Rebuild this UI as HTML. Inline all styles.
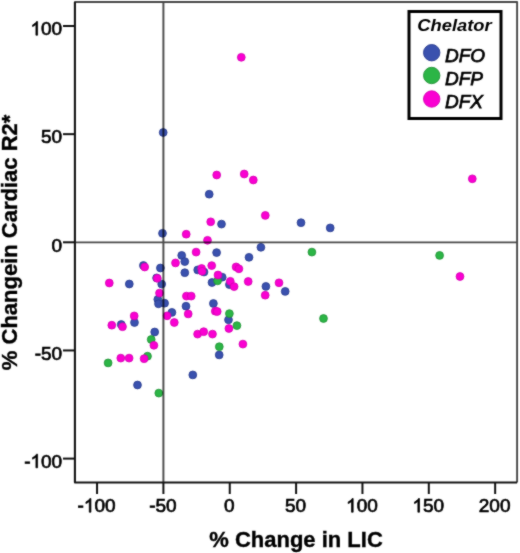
<!DOCTYPE html>
<html><head><meta charset="utf-8"><style>
html,body{margin:0;padding:0;background:#fff;}
body{width:520px;height:553px;overflow:hidden;}
svg{display:block;font-family:"Liberation Sans",sans-serif;will-change:transform;}
</style></head><body>
<svg width="520" height="553" viewBox="0 0 520 553">
<defs><filter id="soft" x="0" y="0" width="520" height="553" filterUnits="userSpaceOnUse" color-interpolation-filters="sRGB"><feConvolveMatrix order="3" kernelMatrix="1 2 1 2 16 2 1 2 1" divisor="28" edgeMode="duplicate"/></filter></defs>
<g filter="url(#soft)">
<rect x="0" y="0" width="520" height="553" fill="#fff"/>
<g>
<circle cx="163.2" cy="132.5" r="3.9" fill="#3a51ae" stroke="#293c8e" stroke-width="0.8"/>
<circle cx="209.2" cy="194.2" r="3.9" fill="#3a51ae" stroke="#293c8e" stroke-width="0.8"/>
<circle cx="221.5" cy="224.1" r="3.9" fill="#3a51ae" stroke="#293c8e" stroke-width="0.8"/>
<circle cx="301.0" cy="222.7" r="3.9" fill="#3a51ae" stroke="#293c8e" stroke-width="0.8"/>
<circle cx="330.2" cy="227.9" r="3.9" fill="#3a51ae" stroke="#293c8e" stroke-width="0.8"/>
<circle cx="162.5" cy="233.3" r="3.9" fill="#3a51ae" stroke="#293c8e" stroke-width="0.8"/>
<circle cx="260.9" cy="247.3" r="3.9" fill="#3a51ae" stroke="#293c8e" stroke-width="0.8"/>
<circle cx="216.6" cy="252.6" r="3.9" fill="#3a51ae" stroke="#293c8e" stroke-width="0.8"/>
<circle cx="249.0" cy="257.3" r="3.9" fill="#3a51ae" stroke="#293c8e" stroke-width="0.8"/>
<circle cx="181.7" cy="255.4" r="3.9" fill="#3a51ae" stroke="#293c8e" stroke-width="0.8"/>
<circle cx="184.8" cy="261.6" r="3.9" fill="#3a51ae" stroke="#293c8e" stroke-width="0.8"/>
<circle cx="184.8" cy="272.7" r="3.9" fill="#3a51ae" stroke="#293c8e" stroke-width="0.8"/>
<circle cx="143.4" cy="265.5" r="3.9" fill="#3a51ae" stroke="#293c8e" stroke-width="0.8"/>
<circle cx="160.4" cy="268.0" r="3.9" fill="#3a51ae" stroke="#293c8e" stroke-width="0.8"/>
<circle cx="161.7" cy="284.1" r="3.9" fill="#3a51ae" stroke="#293c8e" stroke-width="0.8"/>
<circle cx="129.3" cy="284.0" r="3.9" fill="#3a51ae" stroke="#293c8e" stroke-width="0.8"/>
<circle cx="197.7" cy="269.9" r="3.9" fill="#3a51ae" stroke="#293c8e" stroke-width="0.8"/>
<circle cx="204.0" cy="272.0" r="3.9" fill="#3a51ae" stroke="#293c8e" stroke-width="0.8"/>
<circle cx="222.2" cy="277.2" r="3.9" fill="#3a51ae" stroke="#293c8e" stroke-width="0.8"/>
<circle cx="212.0" cy="282.5" r="3.9" fill="#3a51ae" stroke="#293c8e" stroke-width="0.8"/>
<circle cx="265.9" cy="286.4" r="3.9" fill="#3a51ae" stroke="#293c8e" stroke-width="0.8"/>
<circle cx="285.2" cy="291.4" r="3.9" fill="#3a51ae" stroke="#293c8e" stroke-width="0.8"/>
<circle cx="157.8" cy="299.4" r="3.9" fill="#3a51ae" stroke="#293c8e" stroke-width="0.8"/>
<circle cx="158.5" cy="303.8" r="3.9" fill="#3a51ae" stroke="#293c8e" stroke-width="0.8"/>
<circle cx="164.6" cy="303.2" r="3.9" fill="#3a51ae" stroke="#293c8e" stroke-width="0.8"/>
<circle cx="171.9" cy="312.4" r="3.9" fill="#3a51ae" stroke="#293c8e" stroke-width="0.8"/>
<circle cx="186.0" cy="306.2" r="3.9" fill="#3a51ae" stroke="#293c8e" stroke-width="0.8"/>
<circle cx="213.4" cy="303.5" r="3.9" fill="#3a51ae" stroke="#293c8e" stroke-width="0.8"/>
<circle cx="228.5" cy="319.8" r="3.9" fill="#3a51ae" stroke="#293c8e" stroke-width="0.8"/>
<circle cx="134.5" cy="322.5" r="3.9" fill="#3a51ae" stroke="#293c8e" stroke-width="0.8"/>
<circle cx="121.2" cy="324.5" r="3.9" fill="#3a51ae" stroke="#293c8e" stroke-width="0.8"/>
<circle cx="154.7" cy="332.0" r="3.9" fill="#3a51ae" stroke="#293c8e" stroke-width="0.8"/>
<circle cx="219.2" cy="354.9" r="3.9" fill="#3a51ae" stroke="#293c8e" stroke-width="0.8"/>
<circle cx="137.5" cy="385.0" r="3.9" fill="#3a51ae" stroke="#293c8e" stroke-width="0.8"/>
<circle cx="192.8" cy="374.9" r="3.9" fill="#3a51ae" stroke="#293c8e" stroke-width="0.8"/>
<circle cx="156.6" cy="277.9" r="3.9" fill="#3a51ae" stroke="#293c8e" stroke-width="0.8"/>
<circle cx="229.4" cy="284.6" r="3.9" fill="#3a51ae" stroke="#293c8e" stroke-width="0.8"/>
<circle cx="311.9" cy="252.1" r="3.9" fill="#2cb546" stroke="#1f9035" stroke-width="0.8"/>
<circle cx="439.6" cy="255.4" r="3.9" fill="#2cb546" stroke="#1f9035" stroke-width="0.8"/>
<circle cx="323.5" cy="318.5" r="3.9" fill="#2cb546" stroke="#1f9035" stroke-width="0.8"/>
<circle cx="217.6" cy="280.8" r="3.9" fill="#2cb546" stroke="#1f9035" stroke-width="0.8"/>
<circle cx="229.4" cy="313.6" r="3.9" fill="#2cb546" stroke="#1f9035" stroke-width="0.8"/>
<circle cx="236.9" cy="325.6" r="3.9" fill="#2cb546" stroke="#1f9035" stroke-width="0.8"/>
<circle cx="219.3" cy="346.7" r="3.9" fill="#2cb546" stroke="#1f9035" stroke-width="0.8"/>
<circle cx="151.2" cy="339.5" r="3.9" fill="#2cb546" stroke="#1f9035" stroke-width="0.8"/>
<circle cx="147.5" cy="356.2" r="3.9" fill="#2cb546" stroke="#1f9035" stroke-width="0.8"/>
<circle cx="108.1" cy="362.9" r="3.9" fill="#2cb546" stroke="#1f9035" stroke-width="0.8"/>
<circle cx="158.8" cy="393.1" r="3.9" fill="#2cb546" stroke="#1f9035" stroke-width="0.8"/>
<circle cx="241.3" cy="57.3" r="3.9" fill="#fa00d2" stroke="#d200b0" stroke-width="0.8"/>
<circle cx="216.7" cy="175.0" r="3.9" fill="#fa00d2" stroke="#d200b0" stroke-width="0.8"/>
<circle cx="244.2" cy="174.0" r="3.9" fill="#fa00d2" stroke="#d200b0" stroke-width="0.8"/>
<circle cx="253.3" cy="180.0" r="3.9" fill="#fa00d2" stroke="#d200b0" stroke-width="0.8"/>
<circle cx="472.3" cy="178.8" r="3.9" fill="#fa00d2" stroke="#d200b0" stroke-width="0.8"/>
<circle cx="265.3" cy="215.4" r="3.9" fill="#fa00d2" stroke="#d200b0" stroke-width="0.8"/>
<circle cx="210.7" cy="221.8" r="3.9" fill="#fa00d2" stroke="#d200b0" stroke-width="0.8"/>
<circle cx="186.2" cy="234.2" r="3.9" fill="#fa00d2" stroke="#d200b0" stroke-width="0.8"/>
<circle cx="207.5" cy="240.3" r="3.9" fill="#fa00d2" stroke="#d200b0" stroke-width="0.8"/>
<circle cx="196.1" cy="252.1" r="3.9" fill="#fa00d2" stroke="#d200b0" stroke-width="0.8"/>
<circle cx="175.5" cy="262.9" r="3.9" fill="#fa00d2" stroke="#d200b0" stroke-width="0.8"/>
<circle cx="144.7" cy="267.0" r="3.9" fill="#fa00d2" stroke="#d200b0" stroke-width="0.8"/>
<circle cx="157.3" cy="278.3" r="3.9" fill="#fa00d2" stroke="#d200b0" stroke-width="0.8"/>
<circle cx="159.5" cy="293.1" r="3.9" fill="#fa00d2" stroke="#d200b0" stroke-width="0.8"/>
<circle cx="109.3" cy="283.0" r="3.9" fill="#fa00d2" stroke="#d200b0" stroke-width="0.8"/>
<circle cx="201.6" cy="268.5" r="3.9" fill="#fa00d2" stroke="#d200b0" stroke-width="0.8"/>
<circle cx="202.1" cy="271.3" r="3.9" fill="#fa00d2" stroke="#d200b0" stroke-width="0.8"/>
<circle cx="211.7" cy="265.6" r="3.9" fill="#fa00d2" stroke="#d200b0" stroke-width="0.8"/>
<circle cx="236.1" cy="266.9" r="3.9" fill="#fa00d2" stroke="#d200b0" stroke-width="0.8"/>
<circle cx="238.9" cy="268.8" r="3.9" fill="#fa00d2" stroke="#d200b0" stroke-width="0.8"/>
<circle cx="218.0" cy="275.0" r="3.9" fill="#fa00d2" stroke="#d200b0" stroke-width="0.8"/>
<circle cx="230.3" cy="281.3" r="3.9" fill="#fa00d2" stroke="#d200b0" stroke-width="0.8"/>
<circle cx="234.1" cy="286.6" r="3.9" fill="#fa00d2" stroke="#d200b0" stroke-width="0.8"/>
<circle cx="248.2" cy="281.5" r="3.9" fill="#fa00d2" stroke="#d200b0" stroke-width="0.8"/>
<circle cx="279.0" cy="282.8" r="3.9" fill="#fa00d2" stroke="#d200b0" stroke-width="0.8"/>
<circle cx="265.2" cy="295.2" r="3.9" fill="#fa00d2" stroke="#d200b0" stroke-width="0.8"/>
<circle cx="186.4" cy="296.1" r="3.9" fill="#fa00d2" stroke="#d200b0" stroke-width="0.8"/>
<circle cx="191.2" cy="296.1" r="3.9" fill="#fa00d2" stroke="#d200b0" stroke-width="0.8"/>
<circle cx="188.2" cy="313.9" r="3.9" fill="#fa00d2" stroke="#d200b0" stroke-width="0.8"/>
<circle cx="215.3" cy="311.2" r="3.9" fill="#fa00d2" stroke="#d200b0" stroke-width="0.8"/>
<circle cx="217.2" cy="311.5" r="3.9" fill="#fa00d2" stroke="#d200b0" stroke-width="0.8"/>
<circle cx="167.1" cy="315.8" r="3.9" fill="#fa00d2" stroke="#d200b0" stroke-width="0.8"/>
<circle cx="174.3" cy="322.5" r="3.9" fill="#fa00d2" stroke="#d200b0" stroke-width="0.8"/>
<circle cx="134.2" cy="315.9" r="3.9" fill="#fa00d2" stroke="#d200b0" stroke-width="0.8"/>
<circle cx="111.8" cy="325.2" r="3.9" fill="#fa00d2" stroke="#d200b0" stroke-width="0.8"/>
<circle cx="122.5" cy="326.7" r="3.9" fill="#fa00d2" stroke="#d200b0" stroke-width="0.8"/>
<circle cx="228.9" cy="328.5" r="3.9" fill="#fa00d2" stroke="#d200b0" stroke-width="0.8"/>
<circle cx="197.6" cy="334.1" r="3.9" fill="#fa00d2" stroke="#d200b0" stroke-width="0.8"/>
<circle cx="203.7" cy="331.7" r="3.9" fill="#fa00d2" stroke="#d200b0" stroke-width="0.8"/>
<circle cx="212.5" cy="334.1" r="3.9" fill="#fa00d2" stroke="#d200b0" stroke-width="0.8"/>
<circle cx="153.9" cy="345.3" r="3.9" fill="#fa00d2" stroke="#d200b0" stroke-width="0.8"/>
<circle cx="242.9" cy="344.1" r="3.9" fill="#fa00d2" stroke="#d200b0" stroke-width="0.8"/>
<circle cx="120.8" cy="358.1" r="3.9" fill="#fa00d2" stroke="#d200b0" stroke-width="0.8"/>
<circle cx="129.1" cy="358.1" r="3.9" fill="#fa00d2" stroke="#d200b0" stroke-width="0.8"/>
<circle cx="144.1" cy="358.7" r="3.9" fill="#fa00d2" stroke="#d200b0" stroke-width="0.8"/>
<circle cx="460.0" cy="276.5" r="3.9" fill="#fa00d2" stroke="#d200b0" stroke-width="0.8"/>
</g>
<g stroke="#4a4a4a" stroke-width="1.8" fill="none" style="mix-blend-mode:multiply">
<line x1="163.40" y1="2" x2="163.40" y2="482" stroke="#505050" stroke-width="2"/>
<line x1="75" y1="242.30" x2="517" y2="242.30"/>
</g>
<path d="M74.9 482.4 L74.9 2 L517.1 2 L517.1 482.4" fill="none" stroke="#484848" stroke-width="1.9" stroke-linejoin="round"/>
<path d="M74.9 2 L74.9 482.4 L517.1 482.4" fill="none" stroke="#141414" stroke-width="2" stroke-linejoin="round"/>
<g stroke="#111" stroke-width="2">
<line x1="97.05" y1="482.4" x2="97.05" y2="494"/><line x1="163.40" y1="482.4" x2="163.40" y2="494"/><line x1="229.75" y1="482.4" x2="229.75" y2="494"/><line x1="296.10" y1="482.4" x2="296.10" y2="494"/><line x1="362.45" y1="482.4" x2="362.45" y2="494"/><line x1="428.80" y1="482.4" x2="428.80" y2="494"/><line x1="495.15" y1="482.4" x2="495.15" y2="494"/><line x1="63" y1="26.00" x2="75" y2="26.00"/><line x1="63" y1="134.15" x2="75" y2="134.15"/><line x1="63" y1="242.30" x2="75" y2="242.30"/><line x1="63" y1="350.45" x2="75" y2="350.45"/><line x1="63" y1="458.60" x2="75" y2="458.60"/>
</g>
<g font-size="19" fill="#000" stroke="#000" stroke-width="0.7">
<text x="96.55" y="512.20" text-anchor="middle">-&#x2007;00</text><path d="M763 0L583 0L583 1147Q518 1085 412 1023Q306 961 221 930L221 1104Q372 1175 485 1276Q598 1377 645 1472L763 1472Z" transform="translate(83.86,512.20) scale(0.00928,-0.00928)" vector-effect="non-scaling-stroke"/><text x="162.90" y="512.20" text-anchor="middle">-50</text><text x="229.25" y="512.20" text-anchor="middle">0</text><text x="295.60" y="512.20" text-anchor="middle">50</text><text x="361.95" y="512.20" text-anchor="middle">&#x2007;00</text><path d="M763 0L583 0L583 1147Q518 1085 412 1023Q306 961 221 930L221 1104Q372 1175 485 1276Q598 1377 645 1472L763 1472Z" transform="translate(346.10,512.20) scale(0.00928,-0.00928)" vector-effect="non-scaling-stroke"/><text x="428.30" y="512.20" text-anchor="middle">&#x2007;50</text><path d="M763 0L583 0L583 1147Q518 1085 412 1023Q306 961 221 930L221 1104Q372 1175 485 1276Q598 1377 645 1472L763 1472Z" transform="translate(412.45,512.20) scale(0.00928,-0.00928)" vector-effect="non-scaling-stroke"/><text x="494.65" y="512.20" text-anchor="middle">200</text><text x="62.20" y="35.20" text-anchor="end">&#x2007;00</text><path d="M763 0L583 0L583 1147Q518 1085 412 1023Q306 961 221 930L221 1104Q372 1175 485 1276Q598 1377 645 1472L763 1472Z" transform="translate(30.50,35.20) scale(0.00928,-0.00928)" vector-effect="non-scaling-stroke"/><text x="62.20" y="143.35" text-anchor="end">50</text><text x="62.20" y="251.50" text-anchor="end">0</text><text x="62.20" y="359.65" text-anchor="end">-50</text><text x="62.20" y="467.80" text-anchor="end">-&#x2007;00</text><path d="M763 0L583 0L583 1147Q518 1085 412 1023Q306 961 221 930L221 1104Q372 1175 485 1276Q598 1377 645 1472L763 1472Z" transform="translate(30.50,467.80) scale(0.00928,-0.00928)" vector-effect="non-scaling-stroke"/>
</g>
<text x="296" y="546.6" font-size="22" font-weight="bold" text-anchor="middle" stroke="#000" stroke-width="0.35">% Change in LIC</text>
<text transform="translate(17.1,242.4) rotate(-90)" font-size="22" font-weight="bold" text-anchor="middle" stroke="#000" stroke-width="0.35">% Changein Cardiac R2*</text>
<rect x="409" y="11.5" width="92" height="107" fill="#fff" stroke="#000" stroke-width="3"/>
<text transform="translate(454.5,30.5) scale(1.08,1.02)" font-size="17" font-weight="bold" font-style="italic" text-anchor="middle">Chelator</text>
<circle cx="431.7" cy="52.7" r="8.2" fill="#3a51ae" stroke="#293c8e" stroke-width="0.9"/>
<circle cx="431.7" cy="75.5" r="8.2" fill="#2cb546" stroke="#1f9035" stroke-width="0.9"/>
<circle cx="431.7" cy="99.0" r="8.2" fill="#fa00d2" stroke="#d200b0" stroke-width="0.9"/>
<g font-size="19" font-style="italic" stroke="#000" stroke-width="0.75">
<text x="445" y="61.5">DFO</text>
<text x="445" y="84.5">DFP</text>
<text x="445" y="107.8">DFX</text>
</g>
</g>
</svg>
</body></html>
